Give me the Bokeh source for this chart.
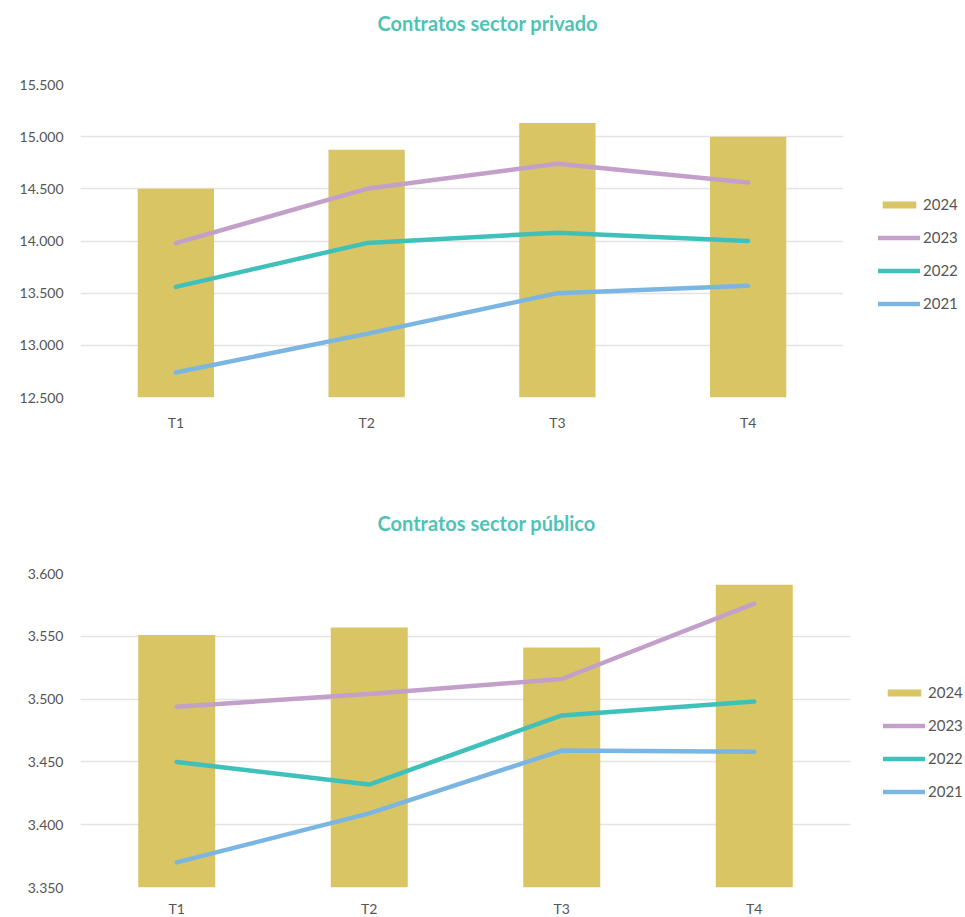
from bokeh.plotting import figure
from bokeh.layouts import column
from bokeh.models import Legend, LegendItem, FixedTicker, Title, ColumnDataSource
from bokeh.embed import file_html
from bokeh.resources import INLINE

quarters = ["T1", "T2", "T3", "T4"]
years = ["2024", "2023", "2022", "2021"]

priv_2024 = [14500, 14875, 15130, 15000]
priv_2023 = [13980, 14500, 14740, 14560]
priv_2022 = [13560, 13980, 14080, 14000]
priv_2021 = [12740, 13110, 13500, 13570]
priv_ticks = [12500, 13000, 13500, 14000, 14500, 15000, 15500]

pub_2024 = [3551, 3557, 3541, 3591]
pub_2023 = [3494, 3504, 3516, 3576]
pub_2022 = [3450, 3432, 3487, 3498]
pub_2021 = [3370, 3409, 3459, 3458]
pub_ticks = [3350, 3400, 3450, 3500, 3550, 3600]

BAR = "#d9c564"
LINE_COLORS = {"2023": "#c3a0ca", "2022": "#3fc0bb", "2021": "#7bb6e2"}
TITLE_COLOR = "#4fc3b3"
TEXT = "#555555"
FONT = "Lato"


def fmt(v):
    return f"{v:,}".replace(",", ".")


def make_chart(title, bars, l23, l22, l21, ticks, frame_w, frame_h, top_border, bottom_border,
               right_border, spacer_size, title_offset, xstandoff, legend_loc):
    p = figure(x_range=quarters, y_range=(ticks[0], ticks[-1]),
               frame_width=frame_w, frame_height=frame_h,
               output_backend="svg", toolbar_location=None,
               min_border_left=80, min_border_right=right_border,
               min_border_top=top_border, min_border_bottom=bottom_border)
    p.outline_line_color = None
    p.title.visible = False
    src = ColumnDataSource(dict(q=quarters, b=bars, l23=l23, l22=l22, l21=l21,
                                base=[ticks[0]] * len(quarters)))
    r_bar = p.vbar(x="q", top="b", bottom="base", width=0.4, source=src, color=BAR, line_color=None)
    r23 = p.line(x="q", y="l23", source=src, line_color=LINE_COLORS["2023"], line_width=4.5, line_cap="round")
    r22 = p.line(x="q", y="l22", source=src, line_color=LINE_COLORS["2022"], line_width=4.5, line_cap="round")
    r21 = p.line(x="q", y="l21", source=src, line_color=LINE_COLORS["2021"], line_width=4.5, line_cap="round")

    p.yaxis.ticker = FixedTicker(ticks=ticks)
    p.yaxis.major_label_overrides = {t: fmt(t) for t in ticks}
    for ax in (p.xaxis[0], p.yaxis[0]):
        ax.axis_line_color = None
        ax.major_tick_line_color = None
        ax.minor_tick_line_color = None
        ax.major_label_text_font = FONT
        ax.major_label_text_color = TEXT
    p.yaxis.major_label_text_font_size = "14px"
    p.xaxis.major_label_text_font_size = "14px"
    p.yaxis.major_label_standoff = 11
    p.xaxis.major_label_standoff = xstandoff
    p.xgrid.grid_line_color = None
    p.ygrid.grid_line_color = "#e4e4e4"
    p.ygrid.grid_line_width = 1.3

    p.add_layout(Title(text=" ", text_font_size=spacer_size), "above")
    p.add_layout(Title(text=title, align="left", offset=title_offset, text_font=FONT,
                       text_font_size="20px", text_font_style="bold", text_color=TITLE_COLOR), "above")

    legend = Legend(items=[LegendItem(label=years[0], renderers=[r_bar]),
                           LegendItem(label=years[1], renderers=[r23]),
                           LegendItem(label=years[2], renderers=[r22]),
                           LegendItem(label=years[3], renderers=[r21])],
                    location=legend_loc, orientation="vertical",
                    glyph_width=42, glyph_height=9, label_height=20, label_standoff=3, spacing=13,
                    label_text_font=FONT, label_text_font_size="15px", label_text_color=TEXT,
                    border_line_color=None, background_fill_alpha=0, margin=35, padding=0)
    p.add_layout(legend, "right")
    return p


p1 = make_chart("Contratos sector privado", priv_2024, priv_2023, priv_2022, priv_2021, priv_ticks,
                frame_w=763, frame_h=313, top_border=84, bottom_border=73, right_border=122,
                spacer_size="30px", title_offset=297, xstandoff=10, legend_loc=(35, 84))
p2 = make_chart("Contratos sector público", pub_2024, pub_2023, pub_2022, pub_2021, pub_ticks,
                frame_w=770, frame_h=314, top_border=103, bottom_border=30, right_border=115,
                spacer_size="20px", title_offset=297, xstandoff=6, legend_loc=(33, 86))

layout = column(p1, p2, spacing=0)
open("out.html", "w").write(file_html(layout, INLINE))
